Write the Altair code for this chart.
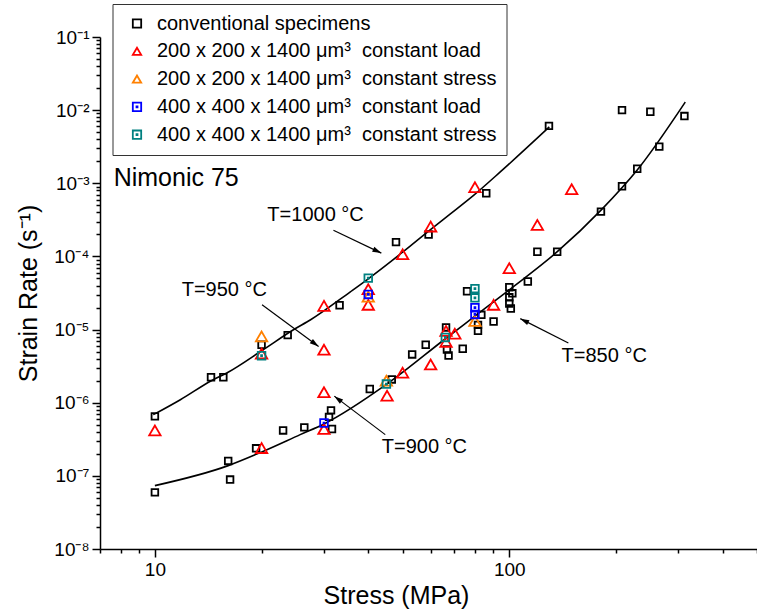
import altair as alt
import pandas as pd

FONT = "Liberation Sans"

# ---------------- series definitions ----------------
SERIES = [
    "conventional specimens",
    "200 x 200 x 1400 \u03bcm\u00b3\u00a0 constant load",
    "200 x 200 x 1400 \u03bcm\u00b3\u00a0 constant stress",
    "400 x 400 x 1400 \u03bcm\u00b3\u00a0 constant load",
    "400 x 400 x 1400 \u03bcm\u00b3\u00a0 constant stress",
]
COLORS = ["#000000", "#FF0000", "#FF8000", "#0000FF", "#008080"]
SQ_DOT = "M-1,-1H1V1H-1Z M-0.12,-0.12H0.12V0.12H-0.12Z"
SHAPES = ["square", "triangle-up", "triangle-up", SQ_DOT, SQ_DOT]
SIZES = [44, 130, 130, 58, 58]

# ---------------- data (stress MPa, strain rate 1/s) ----------------
conv_x = [10, 14.4, 15.6, 20, 23.7, 33.2, 47.9, 59.2, 86.1, 129.4,
          10, 16.1, 16.3, 19.3, 23.0, 26.4, 31.4, 31.0, 31.6, 40.4, 46.6, 53.2,
          58.1, 66.3, 66.7, 67.4, 73.9, 76.0, 83.4, 81.6, 81.6, 90.3, 100, 102,
          100, 100, 101, 112.8, 120, 136.5, 181.4, 208, 229.6, 265, 208, 250, 312]
conv_y = [6.5e-7, 2.23e-6, 2.23e-6, 6.2e-6, 8.4e-6, 2.15e-5, 1.57e-4, 1.99e-4, 7.3e-4, 6.1e-3,
          5.95e-8, 1.6e-7, 8.9e-8, 2.38e-7, 4.18e-7, 4.6e-7, 7.85e-7, 6.4e-7, 4.37e-7,
          1.54e-6, 2.08e-6, 4.57e-6, 6.2e-6, 1.07e-5, 5.35e-6, 4.41e-6, 5.47e-6,
          3.34e-5, 1.59e-5, 1.16e-5, 9.6e-6, 1.29e-5, 3.8e-5, 3.13e-5, 2.76e-5,
          2.27e-5, 1.94e-5, 4.54e-5, 1.16e-4, 1.16e-4, 4.1e-4, 9.1e-4, 1.58e-3,
          3.17e-3, 1.0e-2, 9.5e-3, 8.3e-3]

red_x = [10, 20, 30, 30, 40, 40, 50, 60, 80, 20, 30, 30, 45.2, 50, 60, 66.3, 66.3,
         70.2, 90.3, 100, 120, 150]
red_y = [4.18e-7, 4.7e-6, 2.11e-5, 5.3e-6, 3.56e-5, 2.18e-5, 1.07e-4, 2.56e-4, 8.85e-4,
         2.4e-7, 4.37e-7, 1.39e-6, 1.25e-6, 2.57e-6, 3.33e-6, 9.6e-6, 6.8e-6, 8.8e-6,
         2.18e-5, 6.9e-5, 2.7e-4, 8.3e-4]

orange_x = [20, 40, 45, 80]
orange_y = [8.05e-6, 2.81e-5, 2.0e-6, 1.31e-5]

blue_x = [40, 30, 80, 80]
blue_y = [3.02e-5, 5.28e-7, 1.99e-5, 1.61e-5]

teal_x = [20, 40, 45, 66, 80, 80]
teal_y = [4.39e-6, 5.05e-5, 1.8e-6, 7.8e-6, 3.63e-5, 2.72e-5]

# fitted curves
up_x = [9.9, 11.8, 14.43, 16.0, 20.2, 24.6, 27.5, 35.6, 40.0, 50.2, 59.8, 68.2, 79.6, 94.3, 129.7]
up_y = [6.86e-7, 1.10e-6, 2.0e-6, 2.57e-6, 5.3e-6, 9.94e-6, 1.36e-5, 3.28e-5, 4.94e-5,
        1.16e-4, 2.31e-4, 3.82e-4, 6.95e-4, 1.43e-3, 5.9e-3]
lo_x = [10.0, 16.1, 20.1, 25.7, 30.1, 45.3, 66.0, 79.6, 100, 136.6, 181.8, 229.6, 313.7]
lo_y = [7.35e-8, 1.38e-7, 2.14e-7, 3.66e-7, 5.16e-7, 1.82e-6, 7.49e-6, 1.50e-5, 3.50e-5,
        1.16e-4, 4.33e-4, 1.52e-3, 1.29e-2]

# annotations
ann_text = ["T=1000 \u00b0C", "T=950 \u00b0C", "T=900 \u00b0C", "T=850 \u00b0C"]
ann_x = [28.4, 15.7, 57.6, 185.3]
ann_y = [3.70e-4, 3.50e-5, 2.48e-7, 4.29e-6]
arr_x1 = [31.9, 20.06, 44.67, 146.8]
arr_y1 = [2.28e-4, 2.18e-5, 3.66e-7, 6.54e-6]
arr_x2 = [43.55, 28.97, 32.08, 107.4]
arr_y2 = [1.11e-4, 5.88e-6, 1.23e-6, 1.41e-5]
arr_angle = [115.5, 126.4, 307.0, 296.7]

label_text = ["Nimonic 75"]
label_x = [7.65]
label_y = [1.17e-3]

# ticks
x_ticks = [7, 8, 9, 10, 20, 30, 40, 50, 60, 70, 80, 90, 100, 200, 300, 400, 500]
y_ticks = []
for n in range(-8, -1):
    for k in range(1, 10):
        y_ticks.append(float(f"{k}e{n}"))
y_ticks.append(1e-1)

# ---------------- tables ----------------
rows = []
for i, (xs, ys) in enumerate([(conv_x, conv_y), (red_x, red_y), (orange_x, orange_y),
                              (blue_x, blue_y), (teal_x, teal_y)]):
    for a, b in zip(xs, ys):
        rows.append({"stress": a, "rate": b, "series": SERIES[i], "sz": SIZES[i]})
pts = pd.DataFrame(rows)

lines = pd.concat([
    pd.DataFrame({"stress": up_x, "rate": up_y, "curve": "upper"}),
    pd.DataFrame({"stress": lo_x, "rate": lo_y, "curve": "lower"}),
])
ann = pd.DataFrame({"stress": ann_x, "rate": ann_y, "text": ann_text})
arrows = pd.DataFrame({"stress": arr_x1, "rate": arr_y1, "stress2": arr_x2,
                       "rate2": arr_y2, "angle": arr_angle})
lab = pd.DataFrame({"stress": label_x, "rate": label_y, "text": label_text})

# ---------------- axes ----------------
x_major = "datum.value == 10 || datum.value == 100"
y_major = "abs(log(datum.value)/LN10 - round(log(datum.value)/LN10)) < 0.001"

xaxis = alt.Axis(
    values=x_ticks,
    labelExpr=f"({x_major}) ? format(datum.value, 'd') : ''",
    tickSize={"condition": {"test": x_major, "value": 8}, "value": 4},
    tickColor="black", tickWidth=1.5, domainColor="black", domainWidth=1.5,
    labelFont=FONT, labelFontSize=19, labelColor="black", labelPadding=3,
    labelOverlap=False, grid=False,
    title="Stress (MPa)", titleFont=FONT, titleFontSize=25, titleFontWeight="normal",
    titleColor="black", titleX=296, titleY=46, titleBaseline="middle",
)
yaxis = alt.Axis(
    values=y_ticks,
    labelExpr=(f"({y_major}) ? '10\u207b' + ['\u2070','\u00b9','\u00b2','\u00b3','\u2074',"
               "'\u2075','\u2076','\u2077','\u2078','\u2079'][-round(log(datum.value)/LN10)] : ''"),
    tickSize={"condition": {"test": y_major, "value": 8}, "value": 4},
    tickColor="black", tickWidth=1.5, domainColor="black", domainWidth=1.5,
    labelFont=FONT, labelFontSize=19, labelColor="black", labelPadding=3,
    labelOverlap=False, grid=False,
    title="Strain Rate (s\u207b\u00b9)", titleFont=FONT, titleFontSize=25,
    titleFontWeight="normal", titleColor="black", titlePadding=12,
)

xscale = alt.Scale(type="log", domain=[7, 500], nice=False)
yscale = alt.Scale(type="log", domain=[1e-8, 1e-1], nice=False)


def X(field="stress"):
    return alt.X(f"{field}:Q", scale=xscale, axis=xaxis)


def Y(field="rate"):
    return alt.Y(f"{field}:Q", scale=yscale, axis=yaxis)


leg = alt.Legend(
    title=None, orient="none", legendX=12.5, legendY=-33,
    strokeColor="#333333", fillColor="white", padding=9.5,
    labelFont=FONT, labelFontSize=20, labelColor="black", labelOffset=10,
    labelLimit=0, symbolOffset=5, rowPadding=7.8, symbolStrokeWidth=1.8,
    symbolSize=70,
)

curve_layer = alt.Chart(lines).mark_line(color="black", strokeWidth=1.6,
                                          interpolate="monotone").encode(
    x=X(), y=Y(), detail="curve:N")

point_layer = alt.Chart(pts).mark_point(filled=False, strokeWidth=1.8, opacity=1).encode(
    x=X(), y=Y(),
    color=alt.Color("series:N", scale=alt.Scale(domain=SERIES, range=COLORS), legend=leg),
    shape=alt.Shape("series:N", scale=alt.Scale(domain=SERIES, range=SHAPES), legend=leg),
    size=alt.Size("sz:Q", scale=None, legend=None),
)

ann_layer = alt.Chart(ann).mark_text(font=FONT, fontSize=20, color="black",
                                     align="center", baseline="middle").encode(
    x=X(), y=Y(), text="text:N")

lab_layer = alt.Chart(lab).mark_text(font=FONT, fontSize=25, color="black",
                                     align="left", baseline="middle").encode(
    x=X(), y=Y(), text="text:N")

rule_layer = alt.Chart(arrows).mark_rule(color="black", strokeWidth=1.2).encode(
    x=X(), y=Y(), x2="stress2:Q", y2="rate2:Q")

head_layer = alt.Chart(arrows).mark_point(
    shape="M0,0L0.6,2L-0.6,2Z", filled=True, color="black", size=81, opacity=1
).encode(
    x=alt.X("stress2:Q", scale=xscale, axis=xaxis),
    y=alt.Y("rate2:Q", scale=yscale, axis=yaxis),
    angle=alt.Angle("angle:Q", scale=None),
)

chart = alt.layer(curve_layer, rule_layer, head_layer, ann_layer, lab_layer, point_layer).properties(
    width=657, height=512,
    autosize=alt.AutoSizeParams(type="none"),
    padding={"left": 100, "top": 37, "right": 0, "bottom": 62},
).configure_view(stroke=None)

chart.save("out.html", embed_options={"renderer": "svg", "actions": False})
